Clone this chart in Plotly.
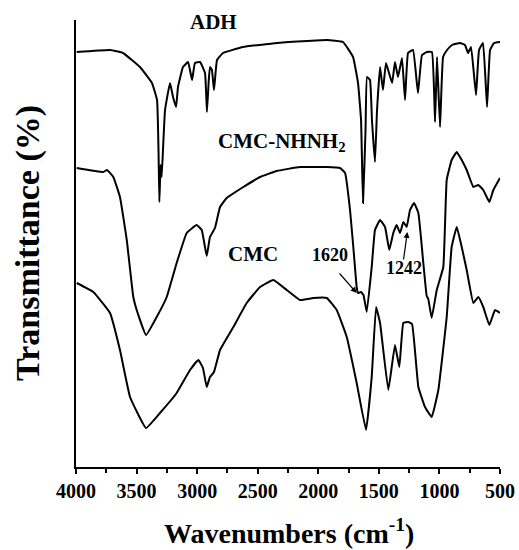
import plotly.graph_objects as go

# ADH spectrum (wavenumber cm-1, transmittance a.u.)
adh_w = [3994, 3719, 3612, 3472, 3373, 3331, 3319, 3312, 3302, 3293, 3282, 3265, 3224, 3199, 3174, 3158,
         3117, 3075, 3042, 3018, 2976, 2935, 2919, 2904, 2894, 2878, 2861, 2836, 2787, 2621, 2341, 1928,
         1796, 1713, 1672, 1647, 1631, 1610, 1598, 1573, 1557, 1532, 1515, 1490, 1466, 1441, 1391, 1367,
         1342, 1309, 1284, 1259, 1218, 1177, 1144, 1103, 1062, 1036, 1020, 995, 970, 937, 896, 830, 789,
         764, 739, 698, 673, 640, 607, 582, 549, 500]
adh_t = [415, 417, 414, 400, 384, 367, 317, 265, 302, 290, 317, 357, 384, 370, 360, 380,
         400, 405, 387, 404, 405, 394, 355, 387, 400, 397, 377, 407, 414, 420, 424, 427,
         425, 410, 384, 347, 264, 337, 390, 387, 347, 305, 357, 400, 377, 404, 384, 405,
         390, 409, 367, 414, 417, 374, 412, 415, 415, 345, 410, 340, 410, 417, 422, 424, 422,
         414, 420, 372, 417, 424, 360, 417, 424, 425]

# CMC-NHNH2 spectrum
hz_w = [3994, 3775, 3744, 3692, 3637, 3581, 3527, 3499, 3422, 3334, 3251, 3169, 3086, 3004, 2962, 2921,
        2894, 2853, 2811, 2756, 2619, 2481, 2343, 2151, 1930, 1821, 1779, 1738, 1711, 1683, 1672, 1647,
        1627, 1600, 1559, 1532, 1490, 1449, 1414, 1381, 1353, 1325, 1298, 1270, 1243, 1210, 1174, 1133,
        1105, 1092, 1064, 1022, 968, 940, 899, 857, 816, 775, 720, 679, 638, 588, 555, 500]
hz_t = [299, 295, 297, 290, 270, 227, 170, 157, 132, 150, 170, 204, 234, 242, 237, 211,
        230, 239, 260, 269, 280, 290, 296, 300, 300, 299, 294, 257, 220, 180, 174, 175,
        172, 155, 200, 237, 247, 240, 217, 234, 242, 234, 245, 240, 257, 264, 254, 204,
        171, 168, 149, 177, 200, 287, 307, 315, 307, 297, 280, 282, 277, 265, 277, 289]

# CMC spectrum
cmc_w = [3994, 3857, 3719, 3637, 3554, 3422, 3307, 3169, 3059, 2990, 2952, 2921, 2894, 2861, 2811, 2701,
         2591, 2481, 2371, 2261, 2151, 2041, 1930, 1848, 1765, 1683, 1606, 1559, 1523, 1490, 1422, 1367,
         1331, 1298, 1257, 1226, 1174, 1119, 1064, 1009, 940, 899, 857, 816, 775, 720, 679, 638, 588,
         541, 500]
cmc_t = [184, 175, 154, 117, 70, 39, 54, 74, 97, 107, 99, 80, 90, 95, 117, 140,
         164, 180, 187, 177, 167, 169, 169, 157, 130, 84, 37, 90, 160, 144, 77, 122,
         100, 144, 145, 143, 80, 60, 50, 77, 150, 220, 240, 220, 197, 164, 170, 160, 142,
         157, 154]

x_ticks = [4000, 3500, 3000, 2500, 2000, 1500, 1000, 500]

FONT = "Times New Roman, Liberation Serif, serif"

fig = go.Figure()
for w, t in [(adh_w, adh_t), (hz_w, hz_t), (cmc_w, cmc_t)]:
    fig.add_trace(go.Scatter(x=w, y=t, mode="lines",
                             line=dict(color="black", width=2, shape="spline", smoothing=0.3),
                             showlegend=False, hoverinfo="skip"))

ann_font = dict(family=FONT, size=21, color="black")
fig.add_annotation(x=2869, y=445, text="<b>ADH</b>", showarrow=False, font=ann_font)
fig.add_annotation(x=2300, y=325, text="<b>CMC-NHNH<sub>2</sub></b>", showarrow=False, font=ann_font)
fig.add_annotation(x=2540, y=213, text="<b>CMC</b>", showarrow=False, font=ann_font)
small = dict(family=FONT, size=18, color="black")
fig.add_annotation(x=1900, y=212, text="<b>1620</b>", showarrow=False, font=small)
fig.add_annotation(x=1290, y=199, text="<b>1242</b>", showarrow=False, font=small)
fig.add_annotation(x=1683, y=174, ax=1835, ay=195, xref="x", yref="y", axref="x", ayref="y",
                   text="", showarrow=True, arrowhead=2, arrowsize=1, arrowwidth=1.2, arrowcolor="black")
fig.add_annotation(x=1265, y=235, ax=1298, ay=206, xref="x", yref="y", axref="x", ayref="y",
                   text="", showarrow=True, arrowhead=2, arrowsize=1, arrowwidth=1.2, arrowcolor="black")

# axis titles placed as paper annotations
fig.add_annotation(xref="paper", yref="paper", x=(289 - 76) / 424, y=-(531 - 467) / 447,
                   text="<b>Wavenumbers (cm<sup>-1</sup>)</b>", showarrow=False,
                   font=dict(family=FONT, size=28, color="black"), xanchor="center", yanchor="middle")
fig.add_annotation(xref="paper", yref="paper", x=-(76 - 28) / 424, y=(467 - 243) / 447,
                   text="<b>Transmittance (%)</b>", showarrow=False, textangle=-90,
                   font=dict(family=FONT, size=34, color="black"), xanchor="center", yanchor="middle")

fig.update_layout(
    width=519, height=550,
    margin=dict(l=76, r=19, t=20, b=83, autoexpand=False),
    paper_bgcolor="white", plot_bgcolor="white",
    font=dict(family=FONT, color="black"),
)
fig.update_xaxes(
    range=[4000, 500], tickvals=x_ticks, ticktext=[f"<b>{v}</b>" for v in x_ticks],
    showgrid=False, zeroline=False, showline=True, linecolor="black", linewidth=2,
    ticks="outside", ticklen=5, tickwidth=2, tickcolor="black",
    minor=dict(dtick=250, ticks="outside", ticklen=4, tickwidth=2, tickcolor="black", showgrid=False),
    tickfont=dict(family=FONT, size=20, color="black"), automargin=False,
)
fig.update_yaxes(
    range=[0, 447], showticklabels=False, ticks="", showgrid=False, zeroline=False,
    showline=True, linecolor="black", linewidth=2, automargin=False,
)

fig.write_html("out.html", config={"displayModeBar": False},
               post_script="document.body.style.margin='0';document.body.style.overflow='hidden';")
